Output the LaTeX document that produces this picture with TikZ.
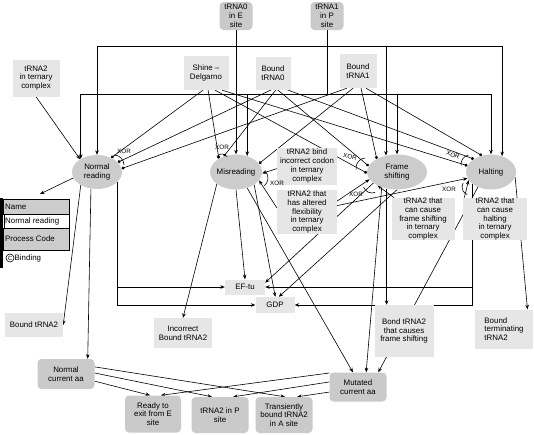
\documentclass[tikz,border=0pt]{standalone}
\usepackage{fontspec}
\setmainfont{Liberation Sans}
\usetikzlibrary{arrows.meta,shapes.geometric}
\definecolor{lg}{HTML}{E6E6E6}
\definecolor{dg}{HTML}{CACACA}
\definecolor{eg}{HTML}{CCCCCC}
\pgfdeclarelayer{bg}
\pgfdeclarelayer{canvas}
\pgfsetlayers{canvas,bg,main}
\begin{document}
\begin{tikzpicture}[x=1pt,y=1pt,
  txt/.style={font=\fontsize{7.9}{8.8}\selectfont},
  lbox/.style={rectangle,fill=lg,align=center,inner sep=0pt,txt},
  dbox/.style={rectangle,rounded corners=4pt,fill=dg,align=center,inner sep=0pt,txt},
  proc/.style={ellipse,fill=eg,align=center,inner sep=-3pt,txt},
  arw/.style={draw,line width=0.6pt,-{Stealth[length=4.5pt,width=3.6pt]}},
  dotl/.style={draw,line width=0.6pt,-{Circle[length=3pt]}},
  pln/.style={draw,line width=0.6pt},
  xorl/.style={font=\fontsize{6.3}{6.3}\selectfont,inner sep=0pt},
]
\useasboundingbox (0,0) rectangle (534,-434);
\begin{pgfonlayer}{canvas}
\fill[white] (0,0) rectangle (534,-434);
\end{pgfonlayer}

% objects and processes
\node[dbox,minimum width=33,minimum height=28] (t0) at (236,-16) {tRNA0\\in E\\site};
\node[dbox,minimum width=33,minimum height=28] (t1) at (327,-16) {tRNA1\\in P\\site};
\node[lbox,minimum width=47,minimum height=37] (tern) at (36,-78) {tRNA2\\in ternary\\complex};
\node[lbox,minimum width=45,minimum height=34] (sd) at (206,-73) {Shine –\\Delgarno};
\node[lbox,minimum width=35,minimum height=33] (bt0) at (273,-73) {Bound\\tRNA0};
\node[lbox,minimum width=37,minimum height=34] (bt1) at (358,-71) {Bound\\tRNA1};
\node[proc,minimum width=50,minimum height=34] (nr) at (97,-172) {Normal\\reading};
\node[proc,minimum width=52,minimum height=35] (mr) at (236,-172) {Misreading};
\node[proc,minimum width=60,minimum height=35] (fs) at (397,-172) {Frame\\shifting};
\node[proc,minimum width=50,minimum height=35] (ha) at (491,-172) {Halting};
\node[lbox,minimum width=60,minimum height=37] (tbi) at (307,-166) {tRNA2 bind\\incorrect codon\\in ternary\\complex};
\node[lbox,minimum width=60,minimum height=44] (taf) at (307,-212) {tRNA2 that\\has altered\\flexibility\\in ternary\\complex};
\node[lbox,minimum width=63,minimum height=42] (tfs) at (423,-219) {tRNA2 that\\can cause\\frame shifting\\in ternary\\complex};
\node[lbox,minimum width=64,minimum height=42] (tha) at (495,-219) {tRNA2 that\\can cause\\halting\\in ternary\\complex};
\node[lbox,minimum width=40,minimum height=15] (ef) at (245,-287) {EF-tu};
\node[lbox,minimum width=39,minimum height=16] (gdp) at (275,-305) {GDP};
\node[lbox,minimum width=58,minimum height=24] (btr) at (34,-325) {Bound tRNA2};
\node[lbox,minimum width=58,minimum height=30] (ibt) at (183,-333) {Incorrect\\Bound tRNA2};
\node[lbox,minimum width=59,minimum height=52] (bfs) at (404,-331) {Bond tRNA2\\that causes\\frame shifting};
\node[lbox,minimum width=58,minimum height=39,align=left] (btt) at (504,-329) {Bound\\terminating\\tRNA2};
\node[dbox,minimum width=57,minimum height=30] (nca) at (66,-374) {Normal\\current aa};
\node[dbox,minimum width=57,minimum height=29] (mca) at (358,-387) {Mutated\\current aa};
\node[dbox,minimum width=56,minimum height=37] (rte) at (153,-414) {Ready to\\exit from E\\site};
\node[dbox,minimum width=57,minimum height=36] (tp) at (220,-415) {tRNA2 in P\\site};
\node[dbox,minimum width=57,minimum height=36] (ta) at (284,-415) {Transiently\\bound tRNA2\\in A site};

% legend
\fill[black] (0,-198) rectangle (2.5,-268);
\draw[fill=eg,line width=0.5pt] (3,-199) rectangle (69,-214);
\node[txt,anchor=west,inner sep=0pt] (lname) at (5,-206.5) {Name};
\draw[fill=white,line width=0.6pt] (4,-214) rectangle (69,-228);
\node[txt,anchor=west,inner sep=0pt] (lnr) at (5,-221) {Normal reading};
\draw[fill=eg,line width=0.5pt] (3,-228) rectangle (69,-250);
\node[txt,anchor=west,inner sep=0pt] (lpc) at (5,-239) {Process Code};
\node[circle,draw,line width=0.6pt,inner sep=0pt,minimum size=8pt,font=\fontsize{6}{6}\selectfont] (lc) at (10,-258) {C};
\node[txt,anchor=west,inner sep=0pt] (lbind) at (14.5,-258) {Binding};

\begin{pgfonlayer}{bg}
% forks from tRNA0 and tRNA1
\coordinate (j0) at (236,-46);
\coordinate (j1) at (327,-94);
\draw[arw] (t0.south) -- (mr.north);
\draw[arw] (j0) -| (nr.north);
\draw[arw] (j0) -| (fs.124);
\draw[arw] (j0) -| (ha.55);
\draw[pln] (t1.south) -- (j1);
\draw[arw] (j1) -| (nr.141);
\draw[arw] (j1) -| (mr.55);
\draw[arw] (j1) -| (fs.north);
\draw[arw] (j1) -| (ha.north);
% ternary complex
\draw[arw] (tern.south) -- (nr.143);
% instrument links
\draw[dotl] (sd.260) -- (nr.45);
\draw[dotl] (bt0.265) -- (nr.25);
\draw[dotl] (bt1.237) -- (nr.8);
\draw[dotl] (sd.277) -- (mr.142);
\draw[dotl] (bt0.280) -- (mr.128);
\draw[dotl] (bt1.254) -- (mr.20);
\draw[dotl] (bt1.280) -- (fs.147);
\draw[dotl] (bt0.285) -- (fs.168);
\draw[dotl] (sd.298) -- (fs.182);
\draw[dotl] (bt1.295) -- (ha.119);
\draw[dotl] (bt0.310) -- (ha.143);
\draw[dotl] (sd.313) -- (ha.165);
% ternary inputs
\draw[arw] (tbi.185) -- (mr.-3);
\draw[arw] (taf.172) -- (mr.-20);
\draw[arw] (taf.20) -- (fs.195);
\draw[arw] (taf.12) -- (ha.195);
\draw[arw] (tfs) -- (fs.215);
\draw[arw] (tha.145) -- (ha.200);
% normal reading outputs
\coordinate (legarr) at (40,-194);
\draw[arw] (nr.194) -- (legarr);
\draw[arw] (nr.219) -- (btr.east);
\draw[arw] (nr.250) -- (nca.35);
\draw[arw] (nr.-27) |- (gdp.west);
\draw[arw] (nr.-27 |- ef.west) -- (ef.west);
% misreading outputs
\draw[arw] (mr.212) -- (ibt.north);
\draw[arw] (mr.south) -- (ef.north);
\draw[arw] (mr.-35) -- (gdp.88);
\draw[arw] (mr.-55) -- (mca.109);
% frame shifting outputs
\draw[arw] (fs.205) -- (ef.12);
\draw[arw] (fs.south) -- (gdp.65);
\draw[arw] (fs.225) -- (mca.61);
\draw[arw] (fs.238) -- (fs.238 |- bfs.north);
% halting outputs
\draw[arw] (ha.229) -- (mca.36);
\draw[arw] (ha.-12) -- (btt.40);
\draw[arw] (ha.211) |- (gdp.east);
\draw[arw] (ha.211 |- ef.east) -- (ef.east);
% current aa outputs
\draw[arw] (nca.-14) -- (rte.99);
\draw[arw] (nca.2) -- (tp.114);
\draw[arw] (nca.14) -- (ta.87);
\draw[arw] (mca.154) -- (rte.67);
\draw[arw] (mca.170) -- (tp.54);
\draw[arw] (mca.190) -- (ta.54);
\end{pgfonlayer}

% XOR marks
\draw[pln] (114,-165) ++(90:10) arc[start angle=90,end angle=0,radius=10];
\node[xorl] (x1) at (124,-151) {XOR};
\draw[pln] (222,-160) ++(150:6) arc[start angle=150,end angle=30,radius=6];
\node[xorl] (x2) at (222,-147) {XOR};
\draw[pln] (258,-178) ++(40:10) arc[start angle=40,end angle=-50,radius=10];
\node[xorl] (x3) at (277,-183) {XOR};
\draw[pln] (366,-168) ++(95:10) arc[start angle=95,end angle=190,radius=10];
\node[xorl,rotate=-10] (x4) at (350,-157) {XOR};
\draw[pln] (372,-184) ++(200:9) arc[start angle=200,end angle=290,radius=9];
\node[xorl] (x5) at (356,-194) {XOR};
\draw[pln] (470,-164) ++(100:9) arc[start angle=100,end angle=190,radius=9];
\node[xorl,rotate=-20] (x6) at (453,-155) {XOR};
\draw[pln] (470,-187) ++(150:8) arc[start angle=150,end angle=250,radius=8];
\node[xorl] (x7) at (449,-189) {XOR};
\end{tikzpicture}
\end{document}
